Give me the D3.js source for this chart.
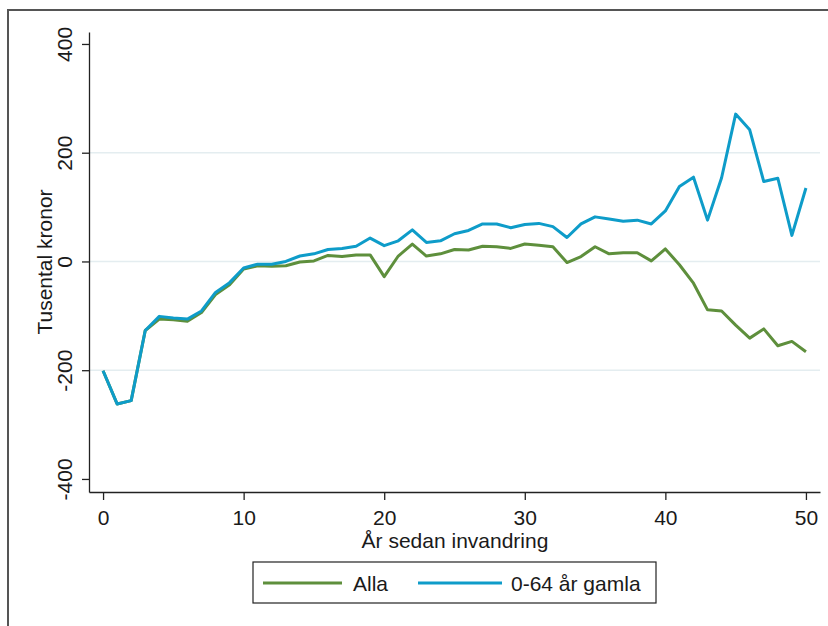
<!DOCTYPE html>
<html><head><meta charset="utf-8">
<script src="https://cdn.jsdelivr.net/npm/d3@7"></script>
<style>body{margin:0;background:#fff}svg{display:block}text{font-family:"Liberation Sans",Arial,sans-serif;fill:#1a1a1a}</style>
</head><body>
<script>
const years = d3.range(0, 51);
const alla = [-201,-262,-256,-127,-106,-107,-110,-94,-61,-43,-14,-8,-9,-8,-1,1,11,9,12,12,-28,10,32,10,14,22,21,28,27,24,32,30,27,-2,9,27,14,16,16,1,23,-6,-40,-89,-91,-117,-141,-124,-155,-147,-166];
const unga = [-201,-262,-256,-127,-101,-104,-106,-91,-57,-39,-12,-5,-5,0,10,14,22,24,28,43,29,38,58,35,38,51,57,69,69,62,68,70,64,44,69,82,78,74,76,69,93,138,155,76,154,271,242,147,153,48,135];
const yTicks = [-400,-200,0,200,400];
const gridTicks = [-200,0,200];
const xTicks = [0,10,20,30,40,50];
const seriesNames = ["Alla","0-64 år gamla"];
const colors = ["#5e8f3c","#0e9cc9"];

const W = 828, H = 626;
const svg = d3.select("body").append("svg").attr("width", W).attr("height", H);
svg.append("rect").attr("x",8).attr("y",10).attr("width",840).attr("height",640)
  .attr("fill","none").attr("stroke","#555").attr("stroke-width",2);

const x = d3.scaleLinear().domain([-1, 51]).range([89, 820]);
const y = d3.scaleLinear().domain([-424, 422]).range([492, 32]);

svg.append("g").selectAll("line").data(gridTicks).join("line")
  .attr("x1", 90).attr("x2", 820).attr("y1", d=>y(d)).attr("y2", d=>y(d))
  .attr("stroke","#e4edf0").attr("stroke-width",1.6);

const yAxis = svg.append("g").attr("transform","translate(89,0)")
  .call(d3.axisLeft(y).tickValues(yTicks).tickSize(7).tickFormat(d3.format("d")).tickSizeOuter(0));
yAxis.select(".domain").attr("stroke","#222").attr("stroke-width",1.3);
yAxis.selectAll(".tick line").attr("stroke","#222").attr("stroke-width",1.3);
yAxis.selectAll(".tick text").remove();
yAxis.selectAll(".tick").append("text")
  .attr("transform","translate(-17,0) rotate(-90)")
  .attr("text-anchor","middle").attr("font-size",21).attr("fill","#1a1a1a")
  .text(d=>d);

const xAxis = svg.append("g").attr("transform","translate(0,492)")
  .call(d3.axisBottom(x).tickValues(xTicks).tickSize(8).tickSizeOuter(0));
xAxis.select(".domain").attr("stroke","#222").attr("stroke-width",1.3);
xAxis.selectAll(".tick line").attr("stroke","#222").attr("stroke-width",1.3);
xAxis.selectAll(".tick text").attr("font-size",21).attr("fill","#1a1a1a").attr("dy",null).attr("y",33);

svg.append("text").attr("x",455).attr("y",548).attr("text-anchor","middle").attr("font-size",21).text("År sedan invandring");
svg.append("text").attr("transform","translate(52,262) rotate(-90)").attr("text-anchor","middle").attr("font-size",21).text("Tusental kronor");

const line = d3.line().x((d,i)=>x(years[i])).y(d=>y(d));
[alla, unga].forEach((s,k)=>{
  svg.append("path").datum(s).attr("d", line).attr("fill","none")
    .attr("stroke", colors[k]).attr("stroke-width",3).attr("stroke-linejoin","round");
});

const lg = svg.append("g");
lg.append("rect").attr("x",253).attr("y",562).attr("width",403).attr("height",41)
  .attr("fill","#fff").attr("stroke","#222").attr("stroke-width",1.2);
const legX = [[263,342,353],[418,502,511]];
seriesNames.forEach((n,k)=>{
  lg.append("line").attr("x1",legX[k][0]).attr("x2",legX[k][1]).attr("y1",583).attr("y2",583)
    .attr("stroke",colors[k]).attr("stroke-width",3);
  lg.append("text").attr("x",legX[k][2]).attr("y",591).attr("font-size",21).text(n);
});
</script>
</body></html>
